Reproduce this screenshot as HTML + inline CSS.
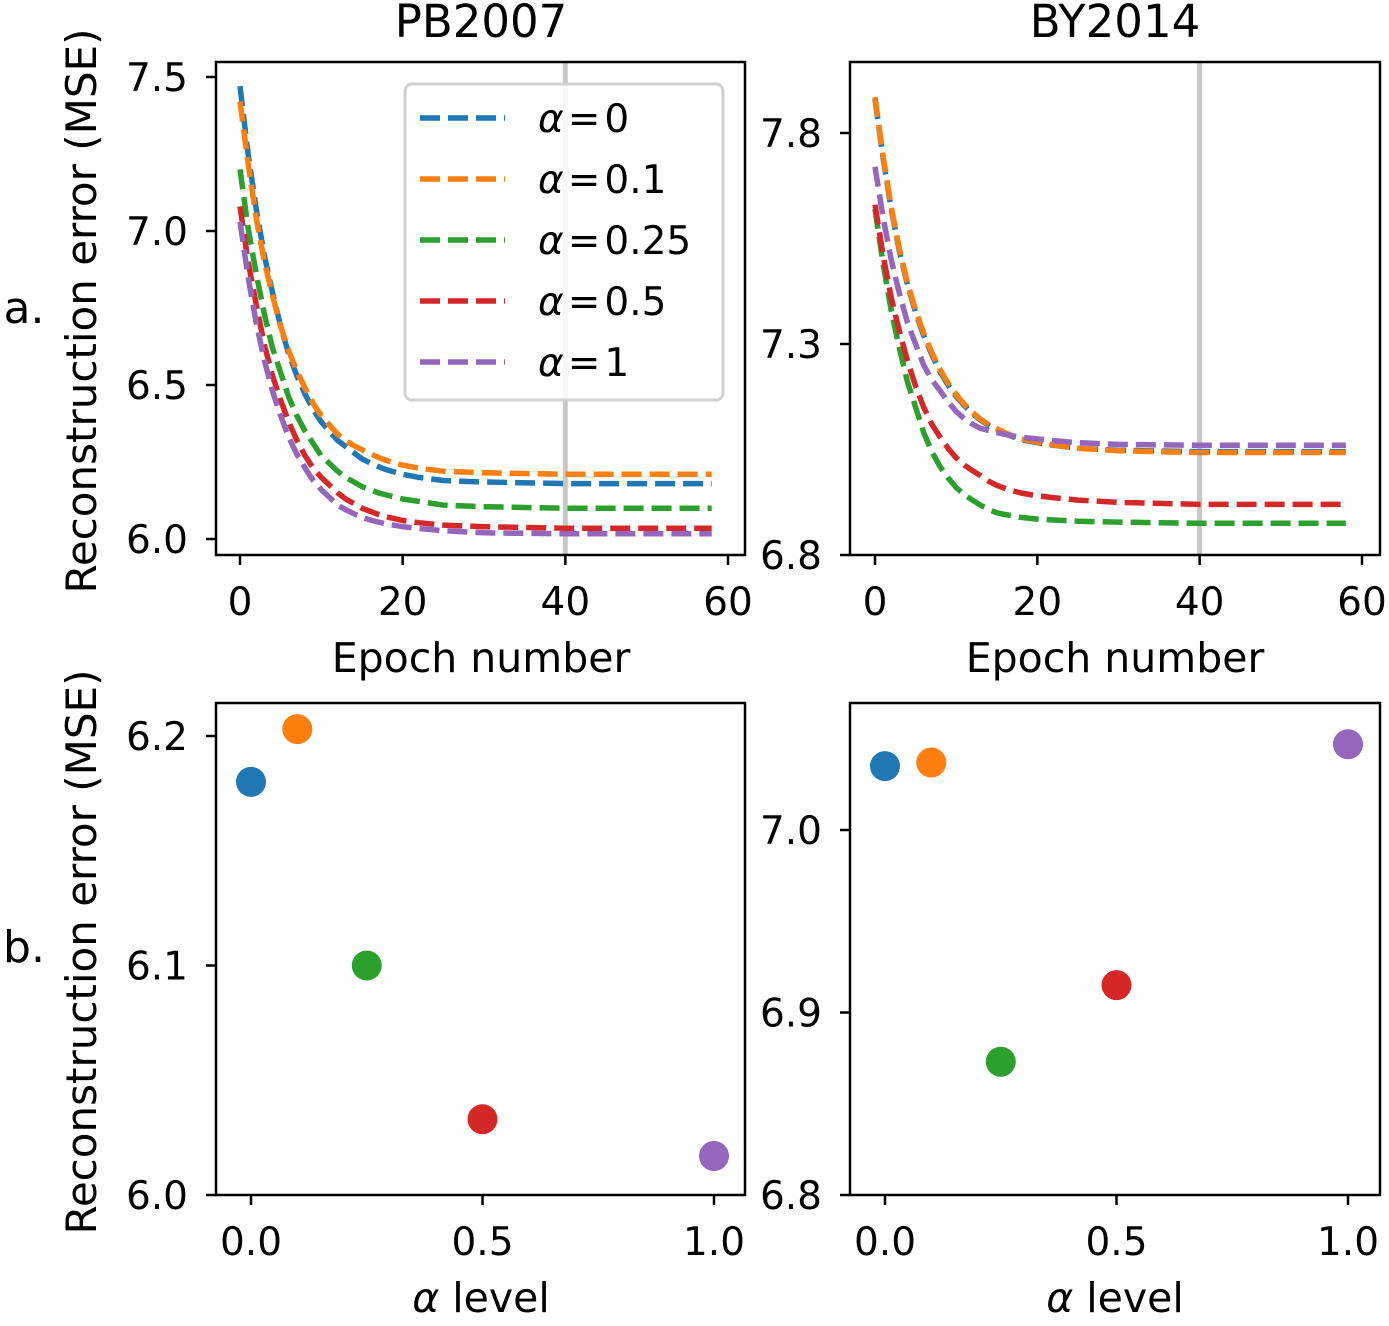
<!DOCTYPE html>
<html><head><meta charset="utf-8"><style>
body{margin:0;background:#fff}
svg text{font-family:"DejaVu Sans","Liberation Sans",sans-serif;fill:#000}
</style></head><body>
<svg id="fig" width="1389" height="1321" xmlns="http://www.w3.org/2000/svg"></svg>
<script>
const colors=['#1f77b4','#ff7f0e','#2ca02c','#d62728','#9467bd'];
const alphaLabels=['0','0.1','0.25','0.5','1'];
const epochs=[0,1,2,3,4,5,6,7,8,9,10,11,12,13,14,15,16,17,18,20,22,25,30,40,50,58];
const pbBlue=[7.47,7.25,7.07,6.92,6.80,6.69,6.60,6.53,6.47,6.42,6.38,6.35,6.32,6.30,6.28,6.26,6.247,6.235,6.225,6.21,6.20,6.19,6.185,6.18,6.18,6.18];
const pbOrange=[7.42,7.22,7.04,6.90,6.79,6.69,6.61,6.545,6.49,6.44,6.40,6.37,6.34,6.32,6.303,6.29,6.277,6.265,6.255,6.24,6.23,6.22,6.215,6.21,6.21,6.21];
const pbGreen=[7.20,7.01,6.86,6.73,6.62,6.54,6.46,6.40,6.35,6.31,6.27,6.245,6.22,6.20,6.185,6.17,6.16,6.15,6.143,6.13,6.122,6.11,6.105,6.10,6.10,6.10];
const pbRed=[7.08,6.90,6.76,6.63,6.53,6.45,6.38,6.32,6.27,6.23,6.20,6.175,6.15,6.13,6.115,6.10,6.09,6.08,6.072,6.06,6.053,6.045,6.04,6.035,6.035,6.035];
const pbPurple=[7.03,6.85,6.70,6.58,6.48,6.40,6.33,6.275,6.23,6.19,6.16,6.135,6.11,6.095,6.082,6.07,6.062,6.055,6.049,6.04,6.034,6.027,6.02,6.017,6.017,6.017];
const byBlue=[7.88,7.74,7.62,7.52,7.44,7.375,7.32,7.275,7.235,7.203,7.176,7.154,7.135,7.12,7.107,7.097,7.088,7.08,7.073,7.066,7.06,7.053,7.048,7.045,7.045,7.045];
const byOrange=[7.885,7.745,7.625,7.525,7.445,7.38,7.325,7.28,7.24,7.207,7.18,7.157,7.138,7.122,7.109,7.099,7.09,7.082,7.075,7.067,7.061,7.053,7.047,7.043,7.043,7.043];
const byGreen=[7.62,7.49,7.38,7.29,7.21,7.15,7.09,7.045,7.01,6.983,6.96,6.943,6.93,6.918,6.908,6.90,6.896,6.893,6.889,6.885,6.883,6.88,6.878,6.875,6.875,6.875];
const byRed=[7.63,7.51,7.41,7.33,7.26,7.20,7.15,7.11,7.08,7.053,7.03,7.013,7.00,6.988,6.975,6.965,6.958,6.952,6.947,6.94,6.936,6.93,6.925,6.92,6.92,6.92];
const byPurple=[7.72,7.60,7.50,7.42,7.35,7.30,7.25,7.215,7.19,7.163,7.14,7.123,7.11,7.10,7.095,7.09,7.086,7.082,7.079,7.075,7.071,7.066,7.062,7.06,7.06,7.06];
const alphas=[0,0.1,0.25,0.5,1];
const pbFinal=[6.18,6.203,6.10,6.033,6.017];
const byFinal=[7.035,7.037,6.873,6.915,7.047];
const pbYTicks=[6.0,6.5,7.0,7.5];
const byYTicks=[6.8,7.3,7.8];
const epochTicks=[0,20,40,60];
const pbScYTicks=[6.0,6.1,6.2];
const byScYTicks=[6.8,6.9,7.0];
const alphaTicks=[0.0,0.5,1.0];

const svg=document.getElementById('fig');
const NS='http://www.w3.org/2000/svg';
function el(tag,attrs,parent){const e=document.createElementNS(NS,tag);for(const k in attrs)e.setAttribute(k,attrs[k]);(parent||svg).appendChild(e);return e;}
function txt(s,x,y,size,anchor,parent){const t=el('text',{x:x,y:y,'font-size':size,'text-anchor':anchor||'middle'},parent);t.textContent=s;return t;}
function lin(d0,d1,r0,r1){return v=>r0+(v-d0)*(r1-r0)/(d1-d0);}

function axes(name,box,xs,ys,xt,yt,xfmt,yfmt){
  const g=el('g',{});
  
  
  const xa=el('g',{},g);
  xt.forEach(v=>{const x=xs(v);el('line',{x1:x,x2:x,y1:box.b,y2:box.b+10,stroke:'#000','stroke-width':2.5},xa);txt(xfmt(v),x,box.b+60,39,'middle',xa);});
  const ya=el('g',{},g);
  yt.forEach(v=>{const y=ys(v);el('line',{x1:box.l-10,x2:box.l,y1:y,y2:y,stroke:'#000','stroke-width':2.5},ya);txt(yfmt(v),box.l-28,y+14,39,'end',ya);});
  return g;
}
function frame(g,box){const r=el('rect',{x:box.l,y:box.t,width:box.r-box.l,height:box.b-box.t,fill:'none',stroke:'#000','stroke-width':2.5},g);}

function linePanel(name,box,xr,yr,yticks,series,yfmt){
  const xs=lin(0,60,xr[0],xr[1]), ys=lin(yr[0],yr[1],yr[2],yr[3]);
  const g=axes(name,box,xs,ys,epochTicks,yticks,v=>String(v),yfmt);
  const vl=el('line',{x1:xs(40),x2:xs(40),y1:box.t,y2:box.b,stroke:'#c8c8c8','stroke-width':5},g);
  
  series.forEach((s,i)=>{
    const d=epochs.map((e,j)=>(j?'L':'M')+xs(e).toFixed(1)+','+ys(s[j]).toFixed(1)).join(' ');
    const p=el('path',{d:d,fill:'none',stroke:colors[i],'stroke-width':5.5,'stroke-dasharray':'20,8','stroke-linejoin':'round'},g);
    
    
  });
  frame(g,box);
  return g;
}
function scatterPanel(name,box,xr,yr,yticks,vals){
  const xs=lin(0,1,xr[0],xr[1]), ys=lin(yr[0],yr[1],yr[2],yr[3]);
  const g=axes(name,box,xs,ys,alphaTicks,yticks,v=>v.toFixed(1),v=>v.toFixed(1));
  vals.forEach((v,i)=>{
    const c=el('circle',{cx:xs(alphas[i]),cy:ys(v),r:15,fill:colors[i]},g);
    
    
  });
  frame(g,box);
  return g;
}
const f1=v=>v.toFixed(1);
linePanel('pb2007-curves',{l:216,r:745,t:62,b:555},[240,728],[6.0,7.5,539,77],pbYTicks,[pbBlue,pbOrange,pbGreen,pbRed,pbPurple],f1);
linePanel('by2014-curves',{l:850,r:1380,t:62,b:555},[875,1362],[6.8,7.8,555,133],byYTicks,[byBlue,byOrange,byGreen,byRed,byPurple],f1);
scatterPanel('pb2007-final-error',{l:216,r:745,t:703,b:1195},[251,714],[6.0,6.2,1195,736],pbScYTicks,pbFinal);
scatterPanel('by2014-final-error',{l:850,r:1380,t:703,b:1195},[885,1348],[6.8,7.0,1195,830],byScYTicks,byFinal);

// legend
const lg=el('g',{});


el('rect',{x:405,y:84,width:318,height:316,rx:7,fill:'#fff','fill-opacity':0.85,stroke:'#d0d0d0','stroke-width':3},lg);
alphaLabels.forEach((a,i)=>{
  const y=118+i*61;
  const it=el('g',{},lg);
  
  
  el('line',{x1:420,x2:505,y1:y,y2:y,stroke:colors[i],'stroke-width':5.5,'stroke-dasharray':'20,8'},it);
  const t=el('text',{x:538,y:y+14,'font-size':39},it);
  t.innerHTML='<tspan font-style="italic">α</tspan><tspan dx="4">=</tspan><tspan dx="4">'+a+'</tspan>';
});

// titles & labels
const labels=[['PB2007',481,37,45],['BY2014',1115,37,45],['Epoch number',481,672,41],['Epoch number',1115,672,41],['a.',24,323,44],['b.',24,962,44]];
labels.forEach(l=>{const t=txt(l[0],l[1],l[2],l[3],'middle');});
[0,1].forEach(i=>{const t=el('text',{x:i?1115:481,y:1312,'font-size':41,'text-anchor':'middle'});t.innerHTML='<tspan font-style="italic">α</tspan> level';});
[[311],[952]].forEach(c=>{const t=el('text',{x:0,y:0,'font-size':42,'text-anchor':'middle',transform:'translate(96,'+c[0]+') rotate(-90)'});t.textContent='Reconstruction error (MSE)';});
</script>
</body></html>
